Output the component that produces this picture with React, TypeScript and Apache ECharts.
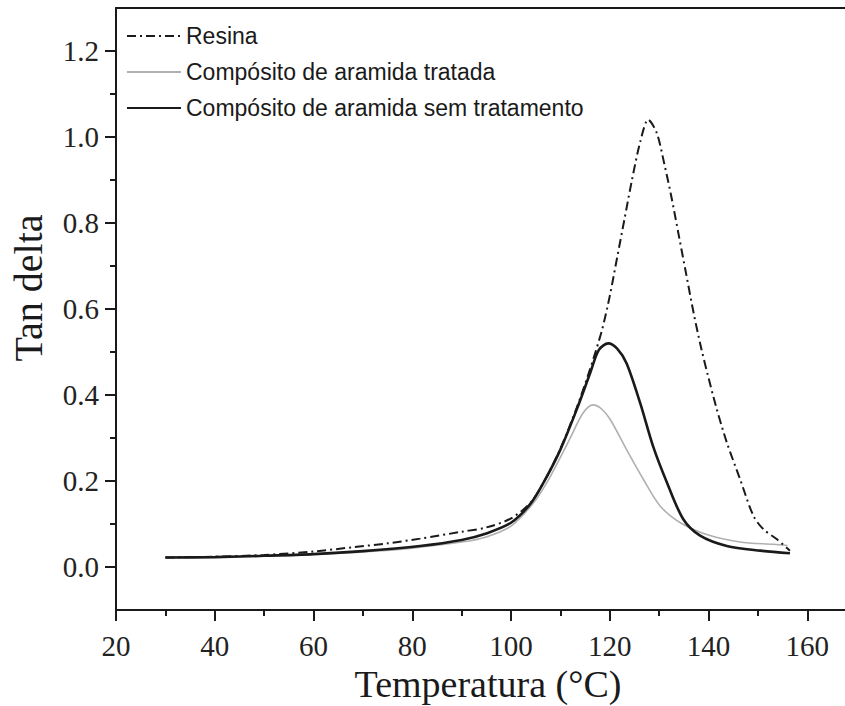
import React, { useEffect, useRef } from "react";
import * as echarts from "echarts";

// Temperature (°C) and tan delta readings for each sample
const resinaTemp = [30, 40, 50, 60, 68, 75, 81.6, 90, 95, 100, 104, 107, 110, 113.3, 116, 118.4, 120, 121.5, 123, 124.5, 126.2, 127.8, 129.5, 131, 132.5, 134, 135.5, 137, 138.5, 140, 141.7, 143.7, 146.4, 149.1, 151.1, 153.8, 156.5];
const resinaTan = [0.022, 0.024, 0.028, 0.036, 0.046, 0.055, 0.066, 0.082, 0.092, 0.113, 0.15, 0.205, 0.275, 0.37, 0.46, 0.55, 0.63, 0.72, 0.81, 0.9, 0.99, 1.04, 1.01, 0.94, 0.86, 0.77, 0.68, 0.59, 0.51, 0.44, 0.366, 0.29, 0.204, 0.119, 0.088, 0.065, 0.038];

const tratadaTemp = [30, 40, 50, 60, 70, 80, 90, 95, 100, 104.5, 107.2, 110, 112, 114.6, 116.6, 118.3, 120.1, 123.4, 126.8, 130.2, 134.3, 140.3, 147.1, 153.2, 156];
const tratadaTan = [0.022, 0.023, 0.025, 0.029, 0.035, 0.044, 0.058, 0.07, 0.095, 0.148, 0.195, 0.255, 0.3, 0.358, 0.377, 0.368, 0.343, 0.273, 0.204, 0.142, 0.103, 0.073, 0.057, 0.053, 0.05];

const semTemp = [30, 40, 50, 60, 70, 81.6, 90, 95, 100, 104, 107, 110, 113.3, 116, 117.8, 119.7, 121.5, 123.4, 126.2, 128.8, 131.6, 134.9, 138.3, 143.7, 150.5, 156.5];
const semTan = [0.022, 0.023, 0.026, 0.03, 0.037, 0.049, 0.063, 0.078, 0.103, 0.148, 0.205, 0.273, 0.366, 0.45, 0.505, 0.52, 0.508, 0.474, 0.38, 0.28, 0.196, 0.111, 0.073, 0.049, 0.038, 0.032];

const seriesNames = ["Resina", "Compósito de aramida tratada", "Compósito de aramida sem tratamento"];
const xTickValues = [20, 40, 60, 80, 100, 120, 140, 160, 180];
const xLabelValues = [20, 40, 60, 80, 100, 120, 140, 160];
const yMajorTicks = [0, 0.2, 0.4, 0.6, 0.8, 1.0, 1.2];
const yMinorTicks = [0.1, 0.3, 0.5, 0.7, 0.9, 1.1];

const zip = (xs: number[], ys: number[]) => xs.map((x, i) => [x, ys[i]]);

const SERIF = "'Liberation Serif', 'DejaVu Serif', serif";
const SANS = "'Liberation Sans', Arial, sans-serif";
const INK = "#1a1a1a";

export default function App() {
  const ref = useRef<HTMLDivElement>(null);

  useEffect(() => {
    if (!ref.current) return;
    const chart = echarts.init(ref.current, undefined, { renderer: "svg" });
    const axisLine = { show: true, onZero: false, lineStyle: { color: INK, width: 2 } };

    chart.setOption({
      animation: false,
      backgroundColor: "#ffffff",
      grid: {
        left: 116,
        top: 8,
        bottom: 96,
        right: -61,
        containLabel: false,
        outerBoundsMode: "none",
      },
      legend: {
        orient: "vertical",
        left: 121,
        top: 18,
        itemWidth: 54,
        itemHeight: 14,
        itemGap: 10,
        itemStyle: { opacity: 0 },
        textStyle: { fontFamily: SANS, fontSize: 23, color: INK, lineHeight: 26 },
        data: seriesNames,
      },
      xAxis: [
        {
          type: "value",
          min: 20,
          max: 180,
          interval: 20,
          position: "bottom",
          axisLine,
          axisTick: { show: true, length: 11, lineStyle: { color: INK, width: 2 }, customValues: xTickValues },
          minorTick: { show: true, splitNumber: 2, length: 6, lineStyle: { color: INK, width: 2 } },
          splitLine: { show: false },
          axisLabel: {
            margin: 21,
            fontFamily: SERIF,
            fontSize: 29,
            color: "#222",
            customValues: xLabelValues,
          },
        },
        {
          type: "value",
          min: 20,
          max: 180,
          position: "top",
          axisLine,
          axisTick: { show: false },
          axisLabel: { show: false },
          splitLine: { show: false },
        },
      ],
      yAxis: [
        {
          type: "value",
          min: -0.1,
          max: 1.3,
          interval: 0.1,
          position: "left",
          axisLine,
          axisTick: { show: true, length: 11, lineStyle: { color: INK, width: 2 }, customValues: yMajorTicks },
          splitLine: { show: false },
          axisLabel: {
            margin: 17,
            fontFamily: SERIF,
            fontSize: 29,
            color: "#222",
            customValues: yMajorTicks,
            formatter: (v: number) => v.toFixed(1),
          },
        },
        {
          type: "value",
          min: -0.1,
          max: 1.3,
          interval: 0.1,
          position: "left",
          axisLine: { show: false, onZero: false },
          axisTick: { show: true, length: 6, lineStyle: { color: INK, width: 2 }, customValues: yMinorTicks },
          axisLabel: { show: false },
          splitLine: { show: false },
        },
      ],
      graphic: [
        {
          type: "text",
          x: 488,
          y: 684,
          style: {
            text: "Temperatura (°C)",
            fontFamily: SERIF,
            fontSize: 38,
            fill: INK,
            align: "center",
            verticalAlign: "middle",
          },
        },
        {
          type: "text",
          x: 28,
          y: 288,
          rotation: Math.PI / 2,
          style: {
            text: "Tan delta",
            fontFamily: SERIF,
            fontSize: 40,
            fill: INK,
            align: "center",
            verticalAlign: "middle",
          },
        },
      ],
      series: [
        {
          name: seriesNames[0],
          type: "line",
          xAxisIndex: 0,
          yAxisIndex: 0,
          symbol: "none",
          smooth: 0.3,
          data: zip(resinaTemp, resinaTan),
          lineStyle: { color: INK, width: 2, type: [9, 4, 2, 4] },
          itemStyle: { color: INK },
          z: 3,
        },
        {
          name: seriesNames[1],
          type: "line",
          xAxisIndex: 0,
          yAxisIndex: 0,
          symbol: "none",
          smooth: 0.3,
          data: zip(tratadaTemp, tratadaTan),
          lineStyle: { color: "#b0b0b0", width: 1.6 },
          itemStyle: { color: "#b0b0b0" },
          z: 2,
        },
        {
          name: seriesNames[2],
          type: "line",
          xAxisIndex: 0,
          yAxisIndex: 0,
          symbol: "none",
          smooth: 0.3,
          data: zip(semTemp, semTan),
          lineStyle: { color: INK, width: 2.6 },
          itemStyle: { color: INK },
          z: 4,
        },
      ],
    });

    return () => chart.dispose();
  }, []);

  return (
    <div
      ref={ref}
      style={{ position: "fixed", left: 0, top: 0, width: 845, height: 706, background: "#fff" }}
    />
  );
}
